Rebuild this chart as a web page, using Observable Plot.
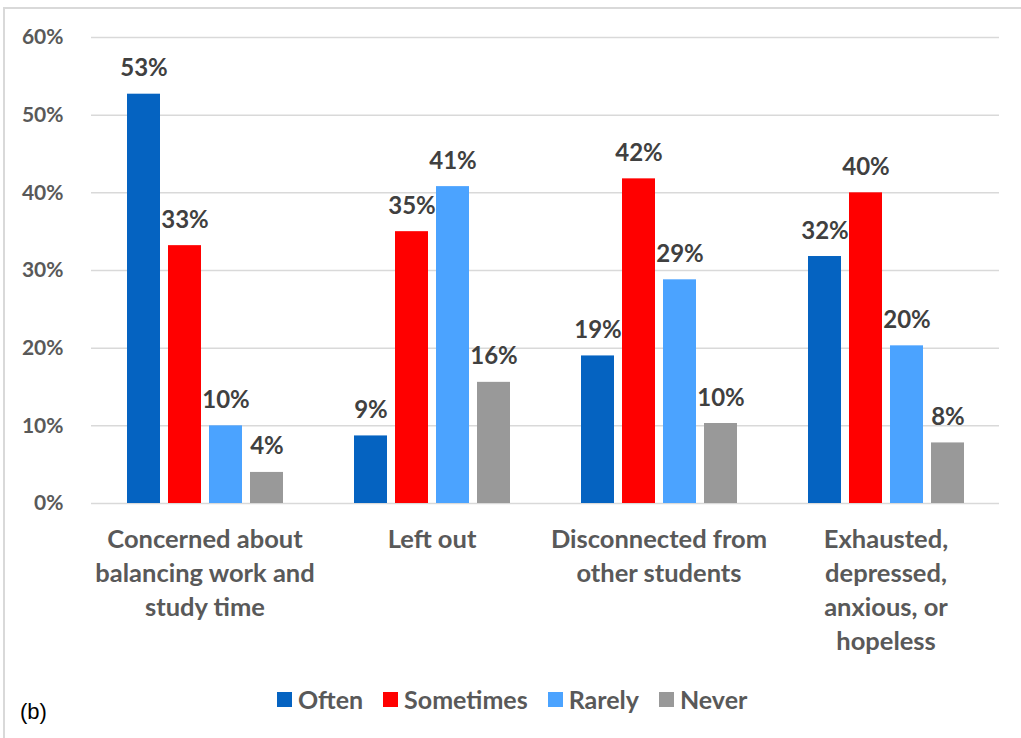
<!DOCTYPE html>
<html>
<head>
<meta charset="utf-8">
<script src="https://cdn.jsdelivr.net/npm/d3@7"></script>
<script src="https://cdn.jsdelivr.net/npm/@observablehq/plot@0.6"></script>
<style>
  html, body { margin: 0; padding: 0; background: #fff; }
  body { width: 1021px; height: 738px; position: relative; overflow: hidden; font-family: Lato, "Open Sans", sans-serif; }
  #frame { position: absolute; left: 3px; top: 7px; width: 1030px; height: 740px; border-left: 2px solid #d9d9d9; border-top: 2px solid #d9d9d9; box-sizing: border-box; pointer-events: none; }
  #chart { position: absolute; left: 0; top: 0; }
  #legend { position: absolute; top: 684px; left: 277px; display: flex; gap: 20px; font-size: 25px; font-weight: 700; color: #595959; }
  .item { display: flex; align-items: center; gap: 6px; }
  .sw { width: 15px; height: 15px; display: inline-block; }
  #tag { position: absolute; left: 20px; top: 699px; font-size: 22px; color: #000; font-family: "Liberation Sans", Arial, sans-serif; }
</style>
</head>
<body>
<div id="chart"></div>
<div id="legend"></div>
<div id="tag">(b)</div>
<div id="frame"></div>
<script>
const categories = [
  "Concerned about\nbalancing work and\nstudy time",
  "Left out",
  "Disconnected from\nother students",
  "Exhausted,\ndepressed,\nanxious, or\nhopeless"
];
const series = ["Often", "Sometimes", "Rarely", "Never"];
const colors = ["#0563C1", "#FF0000", "#4BA3FF", "#999999"];
const often =     [0.527, 0.087, 0.190, 0.318];
const sometimes = [0.332, 0.350, 0.418, 0.400];
const rarely =    [0.100, 0.408, 0.288, 0.203];
const never =     [0.040, 0.156, 0.103, 0.078];
const yTicks = [0, 0.1, 0.2, 0.3, 0.4, 0.5, 0.6];

const valuesBySeries = [often, sometimes, rarely, never];
const data = [];
categories.forEach((c, i) => {
  series.forEach((s, j) => {
    data.push({category: c, series: s, value: valuesBySeries[j][i]});
  });
});

const chart = Plot.plot({
  width: 1021,
  height: 680,
  marginLeft: 91,
  marginRight: 22,
  marginTop: 37,
  marginBottom: 177,
  style: {fontFamily: "Lato, 'Open Sans', sans-serif", fontWeight: 700, background: "transparent"},
  fx: {domain: categories, padding: 0, label: null},
  x: {domain: series, paddingInner: 0.2, paddingOuter: 0.85, axis: null},
  y: {domain: [0, 0.6], label: null},
  color: {domain: series, range: colors},
  marks: [
    Plot.ruleY(yTicks, {stroke: "#d9d9d9", strokeWidth: 1.5, strokeOpacity: 1}),
    Plot.axisY({ticks: yTicks, tickFormat: d3.format(".0%"), tickSize: 0, tickPadding: 28, fontSize: 21, fill: "#595959", label: null}),
    Plot.axisFx({anchor: "bottom", tickSize: 0, tickPadding: 20, fontSize: 25.5, fill: "#595959", lineHeight: 1.34, label: null}),
    Plot.barY(data, {fx: "category", x: "series", y: "value", fill: "series"}),
    Plot.text(data, {fx: "category", x: "series", y: "value", text: d => d3.format(".0%")(d.value), lineAnchor: "bottom", dy: -18, fontSize: 24, fontWeight: 700, fill: "#404040"})
  ]
});
document.getElementById("chart").appendChild(chart);

const legend = document.getElementById("legend");
series.forEach((s, i) => {
  const item = document.createElement("div");
  item.className = "item";
  item.innerHTML = `<span class="sw" style="background:${colors[i]}"></span><span>${s}</span>`;
  legend.appendChild(item);
});
</script>
</body>
</html>
